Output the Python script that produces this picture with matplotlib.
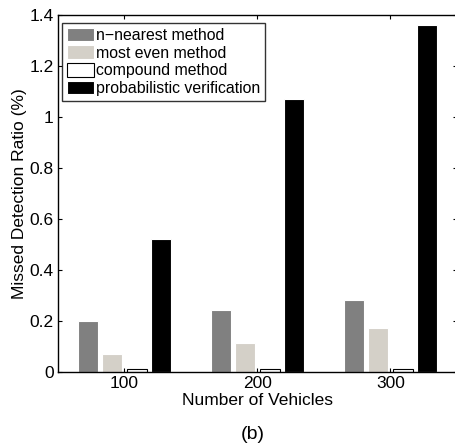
import matplotlib
matplotlib.use('Agg')
import matplotlib.pyplot as plt
import numpy as np

plt.rcParams['font.family'] = ['Liberation Sans', 'DejaVu Sans']

# Data
vehicles = ['100', '200', '300']
n_nearest = [0.20, 0.24, 0.28]
most_even = [0.07, 0.11, 0.17]
compound = [0.01, 0.01, 0.01]
probabilistic = [0.52, 1.07, 1.36]

labels = ['n\u2212nearest method', 'most even method', 'compound method',
          'probabilistic verification']
series = [n_nearest, most_even, compound, probabilistic]
colors = ['#808080', '#d4d0c8', 'white', 'black']
edges = ['white', 'white', 'black', 'white']

W, H = 456, 443
fs = 12.5
fig = plt.figure(figsize=(W / 100, H / 100), dpi=100)
ax = fig.add_axes([58 / W, (H - 371.5) / H, (457 - 58) / W, (371.5 - 15) / H])

x = np.arange(1, len(vehicles) + 1)
step = 0.184
width = 0.148
for i, (vals, c, ec, lab) in enumerate(zip(series, colors, edges, labels)):
    ax.bar(x + (i - 1.5) * step, vals, width, color=c, edgecolor=ec,
           linewidth=0.8, label=lab)

ax.set_xlim(0.5, 3.5)
ax.set_ylim(0, 1.4)
ax.set_xticks(x)
ax.set_xticklabels(vehicles)
ax.set_yticks(np.arange(0, 1.41, 0.2))
ax.set_yticklabels(['0', '0.2', '0.4', '0.6', '0.8', '1', '1.2', '1.4'])
ax.tick_params(direction='in', top=True, right=True, length=3, width=0.8,
               labelsize=fs, pad=3)
for s in ax.spines.values():
    s.set_linewidth(1.0)

ax.set_xlabel('Number of Vehicles', fontsize=fs, labelpad=1.5)
ax.set_ylabel('Missed Detection Ratio (%)', fontsize=fs, labelpad=2)

leg = ax.legend(loc='upper left', bbox_to_anchor=(0.01, 0.978), fontsize=11.4,
                frameon=True, fancybox=False, edgecolor='black',
                handlelength=1.7, handleheight=0.9, handletextpad=0.15,
                labelspacing=0.18, borderpad=0.3, borderaxespad=0)
leg.get_frame().set_linewidth(1.0)
for p in leg.get_patches():
    if p.get_facecolor()[0] > 0.99:
        p.set_edgecolor('black')

fig.text(253 / W, 1 - 434.5 / H, '(b)', ha='center', va='center', fontsize=14)

fig.savefig('out.png', dpi=100)
